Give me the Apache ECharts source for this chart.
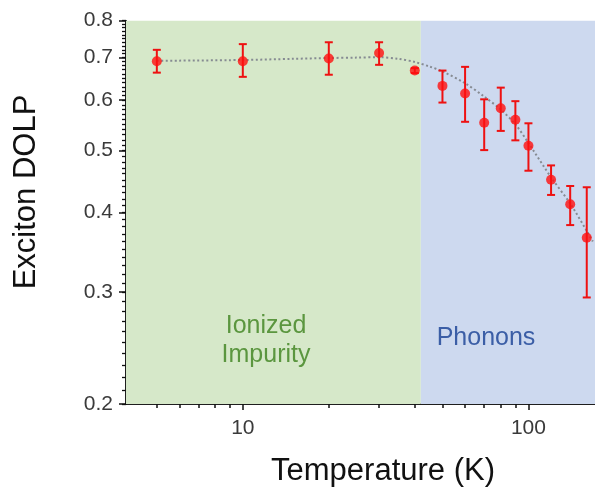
<!DOCTYPE html>
<html><head><meta charset="utf-8">
<script src="https://cdn.jsdelivr.net/npm/echarts@6/dist/echarts.min.js"></script>
<style>html,body{margin:0;padding:0;background:#fff}#c{width:595px;height:495px}</style>
</head><body><div id="c"></div>
<script>
// ---- data ----
const temperatures = [5, 10, 20, 30, 40, 50, 60, 70, 80, 90, 100, 120, 140, 160];
const dolp     = [0.691, 0.691, 0.698, 0.712, 0.668, 0.632, 0.615, 0.553, 0.583, 0.559, 0.509, 0.450, 0.412, 0.365];
const errLow   = [0.663, 0.653, 0.658, 0.682, 0.662, 0.595, 0.555, 0.501, 0.537, 0.519, 0.465, 0.426, 0.382, 0.294];
const errHigh  = [0.720, 0.735, 0.740, 0.740, 0.674, 0.668, 0.677, 0.602, 0.628, 0.598, 0.552, 0.474, 0.440, 0.438];
const fitT     = [5, 10, 15, 20, 25, 30, 35, 40, 45, 50, 60, 70, 80, 90, 100, 120, 140, 160, 168];
const fitDolp  = [0.692, 0.694, 0.697, 0.699, 0.700, 0.701, 0.697, 0.689, 0.678, 0.666, 0.638, 0.608, 0.580, 0.550, 0.514, 0.454, 0.413, 0.374, 0.360];
const xRange = [3.9, 171];
const yRange = [0.2, 0.8];
const regionBoundary = 42;
const xTickLabels = [10, 100];
const xMinorTicks = [5, 6, 7, 8, 9, 20, 30, 40, 50, 60, 70, 80, 90];
const yTickLabels = [0.2, 0.3, 0.4, 0.5, 0.6, 0.7, 0.8];
const yMinorTicks = [];
for (let k = 20; k <= 80; k++) { yMinorTicks.push(k / 100); }
const regionNames = ['Ionized\nImpurity', 'Phonons'];

const FONT = 'Liberation Sans, Arial, sans-serif';
const chart = echarts.init(document.getElementById('c'), null, {renderer: 'canvas'});

function axisLine() { return {show: true, onZero: false, lineStyle: {color: '#111', width: 1.5}}; }

chart.setOption({
  animation: false,
  backgroundColor: '#ffffff',
  grid: {left: 126, right: 0, top: 20.7, bottom: 91, containLabel: false},
  xAxis: [
    {
      type: 'log', logBase: 10, min: xRange[0], max: xRange[1], position: 'bottom', offset: 0,
      splitLine: {show: false}, axisLine: axisLine(),
      axisTick: {show: true, inside: false, length: 4, customValues: xMinorTicks.concat(xTickLabels), lineStyle: {color: '#111', width: 1.5}},
      axisLabel: {show: true, customValues: xTickLabels, fontFamily: FONT, fontSize: 21, color: '#3a3a3a', margin: 14,
        formatter: v => String(Math.round(v))}
    },
    {
      type: 'log', logBase: 10, min: xRange[0], max: xRange[1], position: 'bottom', offset: 0,
      splitLine: {show: false}, axisLine: axisLine(),
      axisTick: {show: true, inside: false, length: 6, customValues: xTickLabels, lineStyle: {color: '#111', width: 1.5}},
      axisLabel: {show: true, customValues: xTickLabels, formatter: () => ''}
    }
  ],
  yAxis: [
    {
      type: 'log', logBase: 10, min: yRange[0], max: yRange[1], position: 'left', offset: 0,
      splitLine: {show: false}, axisLine: axisLine(),
      axisTick: {show: true, inside: false, length: 4, customValues: yMinorTicks, lineStyle: {color: '#111', width: 1.3}},
      axisLabel: {show: true, customValues: yTickLabels, fontFamily: FONT, fontSize: 21, color: '#3a3a3a', margin: 13,
        formatter: v => Number(v).toFixed(1)}
    },
    {
      type: 'log', logBase: 10, min: yRange[0], max: yRange[1], position: 'left', offset: 0,
      splitLine: {show: false}, axisLine: axisLine(),
      axisTick: {show: true, inside: false, length: 7, customValues: yTickLabels, lineStyle: {color: '#111', width: 1.5}},
      axisLabel: {show: true, customValues: yTickLabels, formatter: () => ''}
    }
  ],
  series: [
    {
      type: 'line', name: 'fit', xAxisIndex: 0, yAxisIndex: 0,
      data: fitT.map((t, i) => [t, fitDolp[i]]),
      smooth: 0.3, symbol: 'none', z: 2,
      lineStyle: {color: '#868b92', width: 2, type: [2, 2.5]},
      markArea: {
        silent: true,
        data: [
          [{xAxis: xRange[0], itemStyle: {color: '#d6e8c9'}}, {xAxis: regionBoundary}],
          [{xAxis: regionBoundary, itemStyle: {color: '#cdd9ef'}}, {xAxis: xRange[1]}]
        ]
      }
    },
    {
      type: 'custom', name: 'error', xAxisIndex: 0, yAxisIndex: 0, z: 3,
      data: temperatures.map((t, i) => [t, errLow[i], errHigh[i]]),
      encode: {x: 0, y: [1, 2]},
      renderItem: function (params, api) {
        const x = api.value(0);
        const lo = api.coord([x, api.value(1)]);
        const hi = api.coord([x, api.value(2)]);
        const w = 4;
        const st = {stroke: '#ee1111', lineWidth: 2};
        return {type: 'group', children: [
          {type: 'line', shape: {x1: lo[0], y1: lo[1], x2: hi[0], y2: hi[1]}, style: st},
          {type: 'line', shape: {x1: lo[0] - w, y1: lo[1], x2: lo[0] + w, y2: lo[1]}, style: st},
          {type: 'line', shape: {x1: hi[0] - w, y1: hi[1], x2: hi[0] + w, y2: hi[1]}, style: st}
        ]};
      }
    },
    {
      type: 'scatter', name: 'DOLP', xAxisIndex: 0, yAxisIndex: 0, z: 4,
      data: temperatures.map((t, i) => [t, dolp[i]]),
      symbol: 'circle', symbolSize: 10,
      itemStyle: {color: '#ff0f0f'}
    }
  ],
  graphic: [
    {type: 'text', x: 266, y: 341, z: 100, style: {text: regionNames[0], fill: '#5b963f', font: '25px ' + FONT,
      textAlign: 'center', textVerticalAlign: 'middle', lineHeight: 29}},
    {type: 'text', x: 486, y: 338, z: 100, style: {text: regionNames[1], fill: '#3b5ea6', font: '25px ' + FONT,
      textAlign: 'center', textVerticalAlign: 'middle'}},
    {type: 'text', x: 383, y: 471, z: 100, style: {text: 'Temperature (K)', fill: '#111', font: '31px ' + FONT,
      textAlign: 'center', textVerticalAlign: 'middle'}},
    {type: 'text', x: 26, y: 192, z: 100, rotation: Math.PI / 2, style: {text: 'Exciton DOLP', fill: '#111', font: '31px ' + FONT,
      textAlign: 'center', textVerticalAlign: 'middle'}}
  ]
});
</script>
</body></html>
